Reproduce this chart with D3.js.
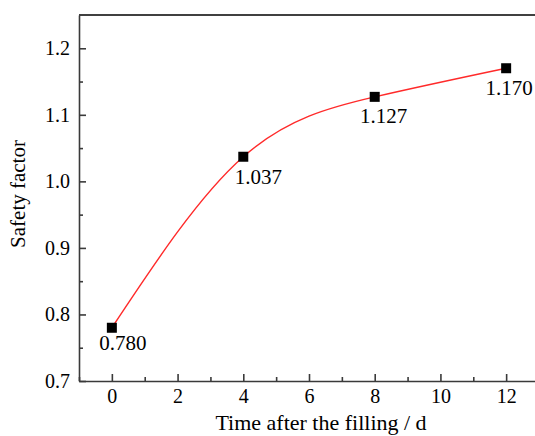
<!DOCTYPE html>
<html>
<head>
<meta charset="utf-8">
<script src="https://cdn.jsdelivr.net/npm/d3@7"></script>
<style>
  body { margin: 0; background: #fff; }
  svg, svg text { font-family: "Liberation Serif", "Times New Roman", serif; }
</style>
</head>
<body>
<div class="chart"></div>
<script>
// data
const dias = [0, 4, 8, 12]
const factores = [0.780, 1.037, 1.127, 1.170]
const etiquetas = ['0.780', '1.037', '1.127', '1.170']
const xTicks = [0, 2, 4, 6, 8, 10, 12]
const yTicks = [0.7, 0.8, 0.9, 1.0, 1.1, 1.2]

function init() {
    const width = 535
    const height = 436
    const left = 79
    const right = 539
    const top = 15
    const bottom = 381
    const axisColor = '#3a3a3a'
    const serif = '"Liberation Serif", "Times New Roman", serif'

    // manual label offsets (dx, dy) from each marker
    const labelOffset = [[11, 22], [15, 27], [9, 26], [3, 27]]

    const svg = d3.select('.chart')
        .append('svg')
        .attr('width', width)
        .attr('height', height)
        .attr('font-family', serif)

    svg.append('rect')
        .attr('width', width)
        .attr('height', height)
        .attr('fill', '#fff')

    const xScale = d3.scaleLinear()
        .domain([-1, 13])
        .range([left, right])

    const yScale = d3.scaleLinear()
        .domain([0.7, 1.25])
        .range([bottom, top])

    // frame: top and right in black
    svg.append('line')
        .attr('x1', left).attr('x2', right)
        .attr('y1', top).attr('y2', top)
        .attr('stroke', '#000')
        .attr('stroke-width', 1.6)
    svg.append('line')
        .attr('x1', right).attr('x2', right)
        .attr('y1', top).attr('y2', bottom)
        .attr('stroke', '#000')
        .attr('stroke-width', 1.6)

    // minor ticks
    const xMinor = d3.axisBottom(xScale)
        .tickValues(d3.range(-1, 14, 2))
        .tickSizeInner(-4)
        .tickSizeOuter(0)
        .tickFormat('')
    const yMinor = d3.axisLeft(yScale)
        .tickValues([0.75, 0.85, 0.95, 1.05, 1.15])
        .tickSizeInner(-4)
        .tickSizeOuter(0)
        .tickFormat('')

    svg.append('g')
        .attr('transform', `translate(0, ${bottom})`)
        .call(xMinor)
        .call(g => g.select('.domain').remove())
    svg.append('g')
        .attr('transform', `translate(${left}, 0)`)
        .call(yMinor)
        .call(g => g.select('.domain').remove())

    const xAxis = d3.axisBottom(xScale)
        .tickValues(xTicks)
        .tickSizeInner(-7)
        .tickSizeOuter(0)
        .tickPadding(8)
        .tickFormat(d3.format('d'))

    const yAxis = d3.axisLeft(yScale)
        .tickValues(yTicks)
        .tickSizeInner(-7)
        .tickSizeOuter(0)
        .tickPadding(9)
        .tickFormat(d3.format('.1f'))

    svg.append('g')
        .attr('id', 'x-axis')
        .attr('transform', `translate(0, ${bottom})`)
        .call(xAxis)

    svg.append('g')
        .attr('id', 'y-axis')
        .attr('transform', `translate(${left}, 0)`)
        .call(yAxis)

    svg.selectAll('g').attr('font-family', serif)
    svg.selectAll('.tick line, .domain')
        .attr('stroke', axisColor)
        .attr('stroke-width', 1.6)
    svg.selectAll('.tick text')
        .attr('fill', '#000')
        .attr('font-size', 20)

    // axis titles
    svg.append('text')
        .attr('x', 321)
        .attr('y', 430)
        .attr('text-anchor', 'middle')
        .attr('font-size', 22)
        .text('Time after the filling / d')

    svg.append('text')
        .attr('transform', 'translate(25, 194) rotate(-90)')
        .attr('text-anchor', 'middle')
        .attr('font-size', 21)
        .text('Safety factor')

    // spline curve
    const line = d3.line()
        .x((d, i) => xScale(dias[i]))
        .y(d => yScale(d))
        .curve(d3.curveNatural)

    svg.append('path')
        .datum(factores)
        .attr('d', line)
        .attr('fill', 'none')
        .attr('stroke', '#ff2a2a')
        .attr('stroke-width', 1.4)

    svg.selectAll('rect.punto')
        .data(factores)
        .enter()
        .append('rect')
        .attr('class', 'punto')
        .attr('x', (d, i) => xScale(dias[i]) - 5)
        .attr('y', d => yScale(d) - 5)
        .attr('width', 10)
        .attr('height', 10)
        .attr('fill', '#000')

    svg.selectAll('text.etiqueta')
        .data(factores)
        .enter()
        .append('text')
        .attr('class', 'etiqueta')
        .attr('x', (d, i) => xScale(dias[i]) + labelOffset[i][0])
        .attr('y', (d, i) => yScale(d) + labelOffset[i][1])
        .attr('text-anchor', 'middle')
        .attr('font-size', 21)
        .text((d, i) => etiquetas[i])
}

init()
</script>
</body>
</html>
